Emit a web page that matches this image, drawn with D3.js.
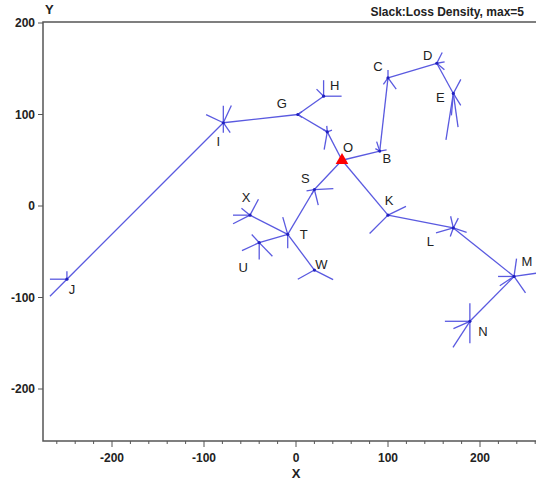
<!DOCTYPE html>
<html>
<head>
<meta charset="utf-8">
<script src="https://cdn.jsdelivr.net/npm/d3@7"></script>
<style>
  body { margin: 0; background: #fff; }
  svg { display: block; }
</style>
</head>
<body>
<div id="chart"></div>
<script>
/* Data */
const nodeNames = ['O', 'A', 'G', 'H', 'I', 'J', 'B', 'C', 'D', 'E', 'K', 'L', 'M', 'N', 'S', 'T', 'X', 'U', 'W', 'R'];
const nodeX = [50, 34, 2, 30, -79, -249, 91, 100, 153, 171, 100, 171, 237, 189, 20, -9, -50, -40, 20, 285];
const nodeY = [50, 81, 100, 120, 91, -80, 60, 140, 156, 123, -10, -24, -77, -126, 18, -31, -10, -40, -70, -70];
const hiddenLabels = ['A', 'R'];

const edges = [
  ['O', 'A'], ['A', 'G'], ['G', 'H'], ['G', 'I'], ['I', 'J'],
  ['O', 'B'], ['B', 'C'], ['C', 'D'], ['D', 'E'],
  ['O', 'S'], ['S', 'T'], ['T', 'X'], ['T', 'U'], ['T', 'W'],
  ['O', 'K'], ['K', 'L'], ['L', 'M'], ['M', 'N'], ['M', 'R']
];

// slack glyph spokes per node: [angle in degrees, loss density]
const spokes = {
  I: [[65, 1.9], [90, 1.7], [155, 1.9], [-55, 1.2], [-90, 1.0]],
  G: [[35, 0.5], [-35, 0.5]],
  H: [[90, 1.6], [0, 1.8], [135, 1.0]],
  A: [[-100, 1.8], [150, 0.5], [20, 0.5], [95, 0.6]],
  B: [[108, 1.0], [10, 0.7], [150, 0.5]],
  C: [[90, 0.8], [-54, 1.4], [-125, 0.8]],
  D: [[63, 1.2], [10, 0.8], [-40, 1.0]],
  E: [[62, 1.6], [-58, 1.4], [-82, 3.4], [-99, 4.7], [-95, 2.2]],
  K: [[26, 2.0], [-135, 2.6]],
  L: [[103, 1.2], [-18, 1.4], [196, 1.8], [-110, 0.9], [63, 1.1]],
  M: [[82, 1.8], [180, 1.6], [213, 1.7], [-55, 2.0]],
  N: [[90, 1.8], [-90, 2.2], [180, 2.5], [-123, 3.1], [204, 1.8]],
  S: [[3, 1.9], [-76, 1.6], [190, 0.8], [240, 0.6]],
  T: [[106, 1.8], [-90, 1.4]],
  X: [[62, 1.8], [180, 1.7], [207, 1.9], [141, 1.1]],
  U: [[133, 1.1], [-90, 1.7], [-46, 1.9], [205, 1.9]],
  W: [[209, 1.9], [-27, 2.1]],
  J: [[180, 1.7], [90, 0.8], [-135, 2.4]]
};

const xTicks = [-200, -100, 0, 100, 200];
const xMinorTicks = d3.range(-260, 261, 20);
const yTicks = [200, 100, 0, -100, -200];
const titleText = 'Slack:Loss Density, max=5';

/* Layout */
const WIDTH = 536;
const HEIGHT = 488;
const plot = { left: 43, top: 22, right: 536, bottom: 441 };
const FONT = '"Liberation Sans", Arial, sans-serif';
const LINE_COLOR = '#5a5ae0';
const AXIS_COLOR = '#555';

// label offsets in pixels from the node
const labelOffset = {
  O: [6, -8], G: [-16, -7], H: [11, -6], I: [-5, 23], J: [5, 15],
  B: [7, 12], C: [-10, -7], D: [-9, -3], E: [-13, 9],
  K: [1, -10], L: [-23, 18], M: [13, -10], N: [13, 15],
  S: [-9, -7], T: [16, 5], X: [-4, -13], U: [-16, 29], W: [7, -1]
};

const x = d3.scaleLinear().domain([-200, 200]).range([112, 480]);
const y = d3.scaleLinear().domain([-200, 200]).range([389, 23]);
const spokeLen = d3.scaleLinear().domain([0, 5]).range([0, 50]);

const nodes = nodeNames.map((name, i) => ({ name, x: nodeX[i], y: nodeY[i] }));
const byName = Object.fromEntries(nodes.map((d) => [d.name, d]));

const svg = d3.select('#chart')
  .append('svg')
  .attr('width', WIDTH)
  .attr('height', HEIGHT)
  .style('font-family', FONT);

svg.append('defs')
  .append('clipPath')
  .attr('id', 'plot-clip')
  .append('rect')
  .attr('x', plot.left)
  .attr('y', plot.top)
  .attr('width', plot.right - plot.left)
  .attr('height', plot.bottom - plot.top);

const marks = svg.append('g').attr('clip-path', 'url(#plot-clip)');

// edges of the tree
marks.selectAll('line.edge')
  .data(edges)
  .join('line')
  .attr('class', 'edge')
  .attr('x1', (d) => x(byName[d[0]].x))
  .attr('y1', (d) => y(byName[d[0]].y))
  .attr('x2', (d) => x(byName[d[1]].x))
  .attr('y2', (d) => y(byName[d[1]].y))
  .attr('stroke', LINE_COLOR)
  .attr('stroke-width', 1.3);

// slack glyphs
const spokeData = [];
Object.entries(spokes).forEach(([name, list]) => {
  list.forEach(([angle, value]) => spokeData.push({ node: byName[name], angle, value }));
});

marks.selectAll('line.spoke')
  .data(spokeData)
  .join('line')
  .attr('class', 'spoke')
  .attr('x1', (d) => x(d.node.x))
  .attr('y1', (d) => y(d.node.y))
  .attr('x2', (d) => x(d.node.x) + spokeLen(d.value) * Math.cos(d.angle * Math.PI / 180))
  .attr('y2', (d) => y(d.node.y) - spokeLen(d.value) * Math.sin(d.angle * Math.PI / 180))
  .attr('stroke', LINE_COLOR)
  .attr('stroke-width', 1.3);

// node dots
marks.selectAll('circle.node')
  .data(nodes.filter((d) => d.name !== 'O'))
  .join('circle')
  .attr('class', 'node')
  .attr('cx', (d) => x(d.x))
  .attr('cy', (d) => y(d.y))
  .attr('r', 1.6)
  .attr('fill', '#2020c0');

// root marker
const root = byName.O;
marks.append('path')
  .attr('d', d3.symbol(d3.symbolTriangle, 70)())
  .attr('transform', `translate(${x(root.x)},${y(root.y)})`)
  .attr('fill', '#ff0000');

// node labels
svg.selectAll('text.node-label')
  .data(nodes.filter((d) => !hiddenLabels.includes(d.name)))
  .join('text')
  .attr('class', 'node-label')
  .attr('x', (d) => x(d.x) + labelOffset[d.name][0])
  .attr('y', (d) => y(d.y) + labelOffset[d.name][1])
  .attr('text-anchor', 'middle')
  .style('font-size', '13px')
  .style('fill', '#222')
  .text((d) => d.name);

// frame
svg.append('path')
  .attr('d', `M${plot.right},${plot.top}H${plot.left}V${plot.bottom}H${plot.right}`)
  .attr('fill', 'none')
  .attr('stroke', AXIS_COLOR)
  .attr('stroke-width', 1.5);

// x axis
const xAxis = svg.append('g').attr('transform', `translate(0,${plot.bottom})`);
xAxis.selectAll('line.minor')
  .data(xMinorTicks)
  .join('line')
  .attr('x1', (d) => x(d))
  .attr('x2', (d) => x(d))
  .attr('y1', 0)
  .attr('y2', (d) => (xTicks.includes(d) ? 6 : 3))
  .attr('stroke', AXIS_COLOR);
xAxis.selectAll('text')
  .data(xTicks)
  .join('text')
  .attr('x', (d) => x(d))
  .attr('y', 21)
  .attr('text-anchor', 'middle')
  .style('font-size', '12px')
  .style('font-weight', 'bold')
  .style('fill', '#222')
  .text((d) => d);

// y axis
const yAxis = svg.append('g').attr('transform', `translate(${plot.left},0)`);
yAxis.selectAll('line')
  .data(yTicks)
  .join('line')
  .attr('x1', -5)
  .attr('x2', 0)
  .attr('y1', (d) => y(d))
  .attr('y2', (d) => y(d))
  .attr('stroke', AXIS_COLOR);
yAxis.selectAll('text')
  .data(yTicks)
  .join('text')
  .attr('x', -8)
  .attr('y', (d) => y(d) + 4)
  .attr('text-anchor', 'end')
  .style('font-size', '12px')
  .style('font-weight', 'bold')
  .style('fill', '#222')
  .text((d) => d);

// axis titles and chart title
svg.append('text')
  .attr('x', x(0))
  .attr('y', 478)
  .attr('text-anchor', 'middle')
  .style('font-size', '13px')
  .style('font-weight', 'bold')
  .style('fill', '#222')
  .text('X');

svg.append('text')
  .attr('x', plot.left + 2)
  .attr('y', 14)
  .style('font-size', '13px')
  .style('font-weight', 'bold')
  .style('fill', '#222')
  .text('Y');

svg.append('text')
  .attr('x', 524)
  .attr('y', 16)
  .attr('text-anchor', 'end')
  .style('font-size', '12px')
  .style('font-weight', 'bold')
  .style('fill', '#222')
  .text(titleText);
</script>
</body>
</html>
